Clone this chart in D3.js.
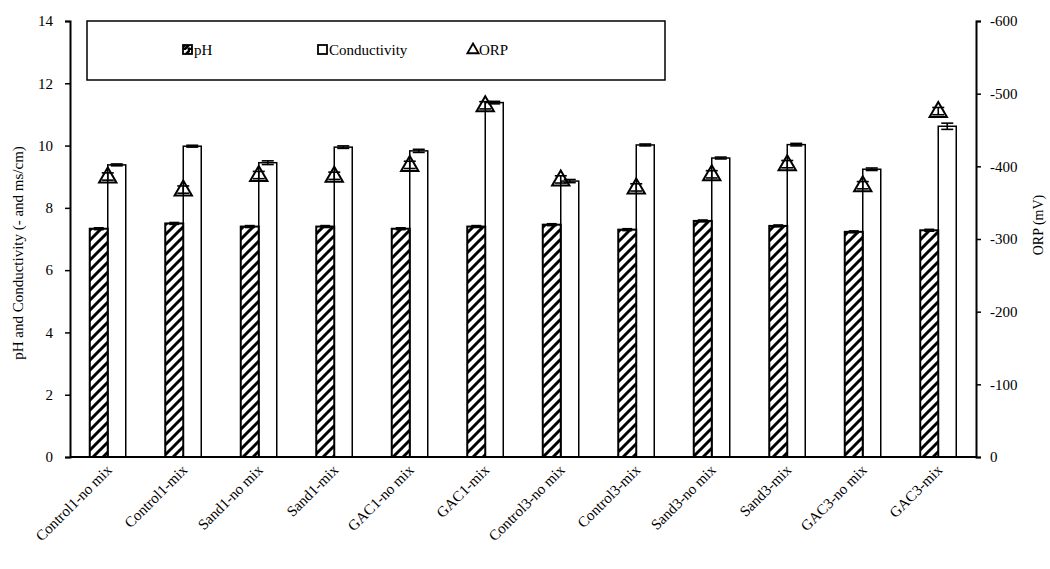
<!DOCTYPE html>
<html><head><meta charset="utf-8">
<script src="https://cdn.jsdelivr.net/npm/d3@7"></script>
<style>
body{margin:0;background:#fff;}
text{font-family:"Liberation Serif","Times New Roman",serif;fill:#000;}
</style></head>
<body><svg id="c" width="1050" height="569"></svg>
<script>
const categories = ["Control1-no mix","Control1-mix","Sand1-no mix","Sand1-mix","GAC1-no mix","GAC1-mix","Control3-no mix","Control3-mix","Sand3-no mix","Sand3-mix","GAC3-no mix","GAC3-mix"];
const phValues = [7.33, 7.50, 7.40, 7.40, 7.33, 7.40, 7.46, 7.30, 7.58, 7.42, 7.23, 7.28];
const phErr = [0.03, 0.03, 0.03, 0.03, 0.03, 0.03, 0.03, 0.03, 0.03, 0.03, 0.03, 0.03];
const condValues = [9.38, 9.98, 9.45, 9.95, 9.83, 11.38, 8.86, 10.02, 9.60, 10.03, 9.24, 10.62];
const condErr = [0.03, 0.03, 0.06, 0.04, 0.05, 0.04, 0.05, 0.03, 0.03, 0.04, 0.04, 0.10];
const orpValues = [-386, -368, -388, -387, -402, -484, -382, -371, -389, -403, -374, -476];
const orpErr = [5, 5, 5, 5, 5, 5, 5, 5, 5, 5, 5, 5];
const leftTicks = [0, 2, 4, 6, 8, 10, 12, 14];
const rightTicks = [0, -100, -200, -300, -400, -500, -600];
const seriesNames = ["pH", "Conductivity", "ORP"];

const svg = d3.select("#c");
const L = 70, R = 976, T = 21, B = 457;

const x = d3.scaleBand().domain(categories).range([L, R]);
const xs = d3.scaleBand().domain(["pH","Conductivity"])
  .range([x.bandwidth()/2 - 18, x.bandwidth()/2 + 18]);
const y = d3.scaleLinear().domain([0, 14]).range([B, T]);
const y2 = d3.scaleLinear().domain([0, -600]).range([B, T]);

const defs = svg.append("defs");
const pat = defs.append("pattern").attr("id","hatch").attr("patternUnits","userSpaceOnUse")
  .attr("width", 10).attr("height", 10);
pat.append("rect").attr("width",10).attr("height",10).attr("fill","#fff");
pat.append("path").attr("d","M-3,3 L3,-3 M0,10 L10,0 M7,13 L13,7")
  .attr("stroke","#000").attr("stroke-width",3);
const pat2 = defs.append("pattern").attr("id","hatchS").attr("patternUnits","userSpaceOnUse")
  .attr("width", 10).attr("height", 10);
pat2.append("rect").attr("width",10).attr("height",10).attr("fill","#fff");
pat2.append("path").attr("d","M0,10 L10,0 M4,10 L10,4 M8,10 L10,8").attr("stroke","#000").attr("stroke-width",2.5);

const g = svg.append("g");
const rows = categories.map((c,i)=>({c, ph:phValues[i], phE:phErr[i], cond:condValues[i], condE:condErr[i], orp:orpValues[i], orpE:orpErr[i]}));

g.selectAll(".cond").data(rows).join("rect")
  .attr("x", d => x(d.c) + xs("Conductivity"))
  .attr("width", xs.bandwidth())
  .attr("y", d => y(d.cond))
  .attr("height", d => y(0) - y(d.cond))
  .attr("fill","#fff").attr("stroke","#000").attr("stroke-width",1.5);

g.selectAll(".ph").data(rows).join("rect")
  .attr("x", d => x(d.c) + xs("pH"))
  .attr("width", xs.bandwidth())
  .attr("y", d => y(d.ph))
  .attr("height", d => y(0) - y(d.ph))
  .attr("fill","url(#hatch)").attr("stroke","#000").attr("stroke-width",2);

function errBars(data, xf, vf, ef, scale, cap){
  const eg = g.append("g").attr("stroke","#000").attr("stroke-width",1.6).attr("fill","none");
  data.forEach(d=>{
    const cx = xf(d), hi = scale(vf(d)+ef(d)), lo = scale(vf(d)-ef(d));
    eg.append("line").attr("x1",cx).attr("x2",cx).attr("y1",hi).attr("y2",lo);
    eg.append("line").attr("x1",cx-cap).attr("x2",cx+cap).attr("y1",hi).attr("y2",hi);
    eg.append("line").attr("x1",cx-cap).attr("x2",cx+cap).attr("y1",lo).attr("y2",lo);
  });
}
errBars(rows, d=>x(d.c)+xs("pH")+xs.bandwidth()/2, d=>d.ph, d=>d.phE, y, 5);
errBars(rows, d=>x(d.c)+xs("Conductivity")+xs.bandwidth()/2, d=>d.cond, d=>d.condE, y, 6);

const tri = d3.symbol().type(d3.symbolTriangle).size(130);
errBars(rows, d=>x(d.c)+x.bandwidth()/2, d=>d.orp, d=>-d.orpE, y2, 6);
g.selectAll(".orp").data(rows).join("path")
  .attr("d", tri)
  .attr("transform", d => `translate(${x(d.c)+x.bandwidth()/2},${y2(d.orp)+1})`)
  .attr("fill","none").attr("stroke","#000").attr("stroke-width",2);

const ax = svg.append("g");
const yl = d3.axisLeft(y).tickValues(leftTicks).tickSize(5).tickPadding(12).tickFormat(d => String(d));
const ylg = ax.append("g").attr("transform",`translate(${L},0)`).call(yl);
const yr = d3.axisRight(y2).tickValues(rightTicks).tickSize(5).tickPadding(9).tickFormat(d => String(d));
const yrg = ax.append("g").attr("transform",`translate(${R},0)`).call(yr);
[ylg, yrg].forEach(a=>{
  a.attr("font-size",15).attr("font-family","Liberation Serif");
  a.select(".domain").attr("stroke","#000").attr("stroke-width",2);
  a.selectAll(".tick line").attr("stroke","#000").attr("stroke-width",1.5);
  a.selectAll("text").attr("font-size",15);
});
ax.append("line").attr("x1",L).attr("x2",R).attr("y1",y(0)).attr("y2",y(0)).attr("stroke","#000").attr("stroke-width",2);

// x labels, rotated -45 degrees, ending under each category centre
const xl = svg.append("g").attr("font-size",15);
xl.selectAll("text").data(categories).join("text")
  .attr("text-anchor","end")
  .attr("transform", d => `translate(${x(d) + x.bandwidth()/2 + 5},${B + 14}) rotate(-45)`)
  .text(d => d);

svg.append("text").attr("transform",`translate(23,${(T+B)/2+14}) rotate(-90)`)
  .attr("text-anchor","middle").attr("font-size",15).text("pH and Conductivity (- and ms/cm)");
svg.append("text").attr("transform",`translate(1043,${(T+B)/2-14}) rotate(-90)`)
  .attr("text-anchor","middle").attr("font-size",14).text("ORP (mV)");

const lg = svg.append("g");
lg.append("rect").attr("x",87).attr("y",T).attr("width",578).attr("height",59)
  .attr("fill","#fff").attr("stroke","#000").attr("stroke-width",1.5);
const legX = [183, 318, 468];
const legY = 50;
lg.append("rect").attr("x",legX[0]).attr("y",legY-5).attr("width",9).attr("height",9)
  .attr("fill","url(#hatchS)").attr("stroke","#000").attr("stroke-width",1.8);
lg.append("rect").attr("x",legX[1]).attr("y",legY-5).attr("width",9).attr("height",9)
  .attr("fill","#fff").attr("stroke","#000").attr("stroke-width",1.8);
lg.append("path").attr("d", d3.symbol().type(d3.symbolTriangle).size(55))
  .attr("transform",`translate(${legX[2]+5},${legY})`).attr("fill","none").attr("stroke","#000").attr("stroke-width",1.8);
seriesNames.forEach((n,i)=>{
  lg.append("text").attr("x",legX[i]+11).attr("y",legY+5).attr("font-size",15).text(n);
});
</script></body></html>
